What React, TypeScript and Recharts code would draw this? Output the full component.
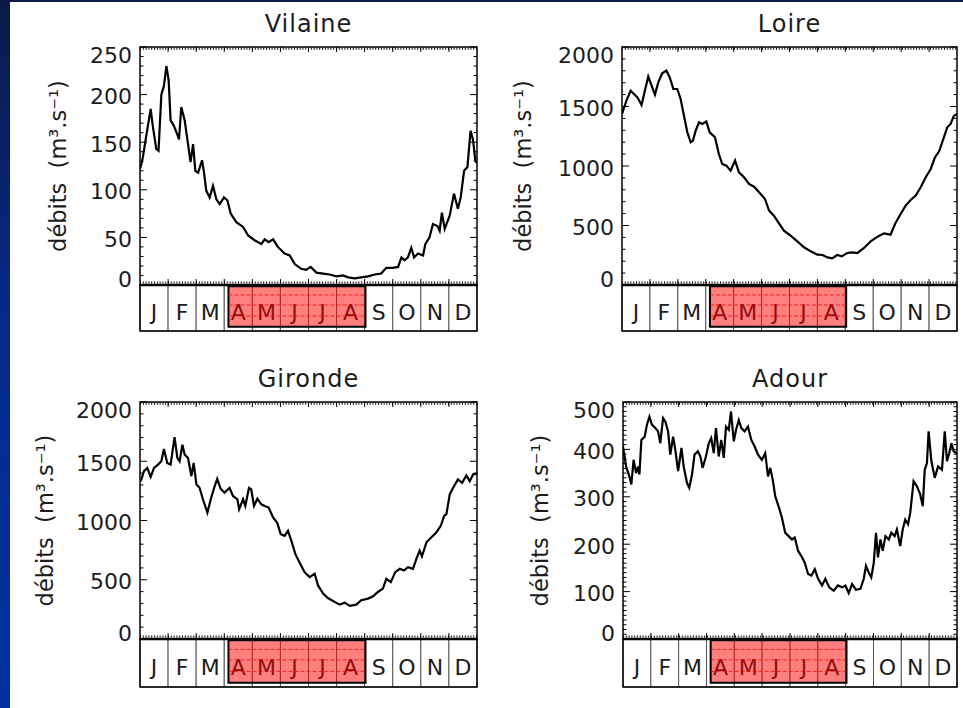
import React from 'react';
import { LineChart, Line, XAxis, YAxis, ReferenceArea, ReferenceLine } from 'recharts';

// ---------- data ----------
const MONTHS = ['J', 'F', 'M', 'A', 'M', 'J', 'J', 'A', 'S', 'O', 'N', 'D'];
const HIGHLIGHT_MONTHS = [3, 4, 5, 6, 7]; // A M J J A
const Y_LABEL = 'débits\u00a0\u00a0(m³.s⁻¹)';

const TITLES = ['Vilaine', 'Loire', 'Gironde', 'Adour'];

const VILAINE_TICKS = [0, 50, 100, 150, 200, 250];
const LOIRE_TICKS = [0, 500, 1000, 1500, 2000];
const GIRONDE_TICKS = [0, 500, 1000, 1500, 2000];
const ADOUR_TICKS = [0, 100, 200, 300, 400, 500];
const MINOR_STEPS = [10, 100, 100, 10];

// [month position, discharge]
const VILAINE = [
  [0, 122], [0.05, 127], [0.1, 134], [0.23, 158], [0.38, 185], [0.46, 166], [0.58, 143], [0.66, 141],
  [0.76, 200], [0.85, 209], [0.94, 230], [1.02, 215], [1.09, 173], [1.21, 167], [1.33, 158], [1.39, 153],
  [1.47, 187], [1.59, 173], [1.71, 148], [1.8, 129], [1.89, 148], [1.97, 120], [2.07, 118], [2.21, 131],
  [2.28, 118], [2.36, 99], [2.48, 92], [2.6, 104], [2.72, 90], [2.84, 85], [2.99, 92], [3.11, 89],
  [3.23, 75], [3.43, 66], [3.67, 61], [3.85, 52], [4.08, 47], [4.32, 43], [4.44, 48], [4.58, 45],
  [4.74, 48], [4.91, 40], [5.15, 33], [5.33, 31], [5.51, 22], [5.74, 17], [5.92, 16], [6.08, 19],
  [6.28, 13], [6.52, 12], [6.75, 11], [6.99, 9], [7.23, 10], [7.41, 8], [7.64, 7], [7.88, 8],
  [8.12, 9], [8.36, 11], [8.59, 12], [8.77, 18], [9.01, 18], [9.19, 19], [9.31, 29], [9.42, 26],
  [9.54, 29], [9.66, 39], [9.76, 29], [9.9, 33], [10.08, 31], [10.16, 43], [10.31, 50], [10.43, 64],
  [10.59, 62], [10.67, 57], [10.75, 76], [10.85, 59], [11.03, 73], [11.18, 96], [11.32, 80], [11.42, 92],
  [11.54, 120], [11.66, 124], [11.77, 162], [11.86, 152], [11.94, 131], [12, 128],
];

const LOIRE = [
  [0, 1437], [0.16, 1549], [0.31, 1633], [0.43, 1605], [0.55, 1577], [0.7, 1513], [0.82, 1633], [0.94, 1751],
  [1.06, 1675], [1.18, 1600], [1.3, 1703], [1.44, 1779], [1.59, 1801], [1.71, 1745], [1.84, 1647], [1.98, 1647],
  [2.1, 1563], [2.22, 1423], [2.34, 1283], [2.46, 1199], [2.54, 1213], [2.64, 1297], [2.76, 1367], [2.88, 1353],
  [3.02, 1375], [3.14, 1283], [3.33, 1241], [3.47, 1101], [3.59, 1017], [3.74, 1003], [3.89, 961], [4.05, 1045],
  [4.19, 947], [4.37, 905], [4.55, 849], [4.73, 826], [4.91, 779], [5.12, 723], [5.27, 625], [5.44, 583],
  [5.6, 527], [5.8, 457], [6.04, 415], [6.28, 367], [6.52, 317], [6.76, 283], [7.0, 255], [7.18, 252],
  [7.36, 232], [7.53, 224], [7.71, 252], [7.87, 241], [8.07, 269], [8.25, 274], [8.43, 269], [8.67, 311],
  [8.91, 367], [9.15, 406], [9.39, 434], [9.62, 423], [9.78, 513], [9.98, 597], [10.16, 667], [10.34, 714],
  [10.52, 751], [10.7, 821], [10.88, 905], [11.06, 975], [11.21, 1073], [11.36, 1123], [11.53, 1241], [11.65, 1325],
  [11.77, 1353], [11.89, 1423], [12, 1437],
];

const GIRONDE = [
  [0, 1330], [0.05, 1346], [0.14, 1416], [0.26, 1444], [0.38, 1369], [0.5, 1444], [0.64, 1472], [0.76, 1500],
  [0.85, 1603], [0.97, 1486], [1.09, 1472], [1.23, 1704], [1.33, 1528], [1.41, 1500], [1.51, 1640], [1.59, 1556],
  [1.71, 1528], [1.83, 1374], [1.91, 1486], [2.01, 1304], [2.12, 1276], [2.24, 1179], [2.4, 1067], [2.52, 1179],
  [2.64, 1276], [2.75, 1352], [2.87, 1268], [3.01, 1235], [3.19, 1276], [3.31, 1207], [3.47, 1179], [3.53, 1095],
  [3.67, 1179], [3.75, 1123], [3.88, 1276], [3.96, 1262], [4.06, 1123], [4.18, 1184], [4.32, 1137], [4.44, 1123],
  [4.58, 1109], [4.74, 1025], [4.89, 978], [5.01, 885], [5.15, 871], [5.27, 913], [5.39, 829], [5.53, 718],
  [5.69, 642], [5.86, 564], [6.04, 522], [6.22, 550], [6.34, 452], [6.52, 383], [6.69, 346], [6.93, 313],
  [7.11, 290], [7.29, 307], [7.47, 279], [7.7, 290], [7.88, 327], [8.12, 341], [8.3, 360], [8.47, 397],
  [8.65, 425], [8.77, 508], [8.93, 480], [9.09, 564], [9.25, 592], [9.4, 578], [9.54, 606], [9.72, 592],
  [9.84, 676], [9.96, 746], [10.04, 698], [10.2, 816], [10.37, 857], [10.55, 899], [10.71, 955], [10.83, 1039],
  [10.91, 1053], [11.03, 1221], [11.15, 1276], [11.32, 1346], [11.47, 1318], [11.62, 1380], [11.74, 1332], [11.86, 1388],
  [12, 1396],
];

const ADOUR = [
  [0, 406], [0.11, 364], [0.23, 343], [0.3, 326], [0.38, 378], [0.47, 350], [0.54, 364], [0.59, 347],
  [0.66, 420], [0.78, 427], [0.86, 452], [0.95, 469], [1.04, 452], [1.16, 445], [1.26, 438], [1.34, 413],
  [1.44, 466], [1.52, 459], [1.62, 438], [1.7, 389], [1.8, 427], [1.88, 399], [1.98, 354], [2.1, 403],
  [2.18, 364], [2.3, 329], [2.38, 319], [2.48, 347], [2.57, 389], [2.69, 396], [2.78, 385], [2.86, 361],
  [2.98, 385], [3.08, 413], [3.17, 424], [3.26, 392], [3.34, 445], [3.44, 385], [3.53, 420], [3.62, 382],
  [3.7, 448], [3.8, 441], [3.88, 480], [3.98, 417], [4.06, 441], [4.16, 462], [4.25, 445], [4.37, 438],
  [4.49, 448], [4.61, 420], [4.73, 406], [4.85, 389], [4.99, 378], [5.11, 392], [5.21, 343], [5.29, 361],
  [5.38, 336], [5.47, 301], [5.59, 280], [5.71, 256], [5.83, 224], [5.95, 217], [6.07, 210], [6.17, 214],
  [6.29, 186], [6.41, 175], [6.53, 161], [6.65, 137], [6.77, 134], [6.89, 147], [7.01, 127], [7.15, 113],
  [7.27, 127], [7.41, 109], [7.57, 102], [7.72, 113], [7.87, 109], [7.99, 113], [8.11, 97], [8.23, 116],
  [8.37, 104], [8.53, 106], [8.65, 127], [8.73, 154], [8.83, 140], [8.92, 130], [9.01, 161], [9.09, 224],
  [9.16, 172], [9.25, 210], [9.33, 186], [9.43, 217], [9.55, 210], [9.64, 224], [9.76, 217], [9.84, 231],
  [9.96, 196], [10.05, 231], [10.14, 252], [10.24, 242], [10.32, 266], [10.44, 333], [10.56, 322], [10.68, 305],
  [10.77, 280], [10.84, 357], [10.92, 371], [10.98, 438], [11.08, 375], [11.2, 340], [11.32, 364], [11.46, 357],
  [11.56, 438], [11.64, 375], [11.72, 392], [11.8, 413], [11.88, 396], [12, 392],
];

const MONTH_EDGES = [0, 1, 2, 3, 4, 5, 6, 7, 8, 9, 10, 11, 12];

// ---------- layout ----------
const FONT = '"DejaVu Sans", Verdana, sans-serif';
const TEXT = '#1c1c1c';
const YW = 60;

const GEOM = [
  { left: 0, top: 0, w: 481, h: 345, plotL: 140, plotR: 477, plotT: 47, plotB: 285, stripB: 331, labelGap: 82 },
  { left: 481, top: 0, w: 482, h: 345, plotL: 622, plotR: 957, plotT: 47, plotB: 285, stripB: 331, labelGap: 99 },
  { left: 0, top: 355, w: 481, h: 345, plotL: 140, plotR: 477, plotT: 402, plotB: 639, stripB: 687, labelGap: 95 },
  { left: 481, top: 355, w: 482, h: 345, plotL: 623, plotR: 957, plotT: 402, plotB: 639, stripB: 687, labelGap: 83 },
];

function Panel({ title, series, yTicks, minorStep, g }: any) {
  const max = yTicks[yTicks.length - 1];
  const plotH = g.plotB - g.plotT;
  const stripH = g.stripB - g.plotB;
  const s = (max * stripH) / plotH;
  const px = max / plotH; // data units per pixel (vertical)
  const data = series.map(([m, q]: number[]) => ({ m, q }));

  const yMinor: number[] = [];
  for (let i = 0; i * minorStep <= max; i++) yMinor.push(i * minorStep);
  const isMajorY = (v: number) => yTicks.includes(v);

  const margin = {
    top: g.plotT - g.top,
    left: g.plotL - g.left - YW,
    right: g.left + g.w - g.plotR - 1,
    bottom: g.top + g.h - g.stripB - 1,
  };

  const LeftTick = (p: any) => {
    const v = p.payload.value;
    const major = isMajorY(v);
    const len = major ? 7 : 3.5;
    const dy = v === max ? 8 : v === 0 ? -6 : 2;
    return (
      <g>
        <line x1={p.x} x2={p.x + len} y1={p.y} y2={p.y} stroke="#000" strokeWidth={1} />
        {major && (
          <text x={p.x - 8} y={p.y + dy} textAnchor="end" dominantBaseline="central"
            fontFamily={FONT} fontSize={22} fill={TEXT}>{v}</text>
        )}
      </g>
    );
  };
  const RightTick = (p: any) => {
    const len = isMajorY(p.payload.value) ? 7 : 3.5;
    return <line x1={p.x} x2={p.x - len} y1={p.y} y2={p.y} stroke="#000" strokeWidth={1} />;
  };

  const TitleLabel = (p: any) => {
    const vb = p.viewBox;
    return (
      <text x={vb.x + vb.width / 2} y={vb.y - 15} textAnchor="middle"
        fontFamily={FONT} fontSize={24} letterSpacing={1} fill={TEXT}>{title}</text>
    );
  };
  const YLabel = (p: any) => {
    const vb = p.viewBox;
    const cx = vb.x + vb.width - g.labelGap;
    const cy = vb.y + plotH / 2;
    return (
      <text x={cx} y={cy} textAnchor="middle" dominantBaseline="central"
        transform={`rotate(-90, ${cx}, ${cy})`} fontFamily={FONT} fontSize={22.5} fill={TEXT}>{Y_LABEL}</text>
    );
  };
  const MonthLetter = (letter: string) => (p: any) => {
    const vb = p.viewBox;
    return (
      <text x={vb.x + vb.width / 2} y={vb.y + vb.height / 2 + 4} textAnchor="middle" dominantBaseline="central"
        fontFamily={FONT} fontSize={22} fill={TEXT}>{letter}</text>
    );
  };

  const hx1 = HIGHLIGHT_MONTHS[0] + 0.15;
  const hx2 = HIGHLIGHT_MONTHS[HIGHLIGHT_MONTHS.length - 1] + 1.03;
  const inner = MONTH_EDGES.slice(1, -1);

  return (
    <div style={{ position: 'absolute', left: g.left, top: g.top }}>
      <LineChart width={g.w} height={g.h} data={data} margin={margin}>
        <XAxis dataKey="m" type="number" domain={[0, 12]} allowDataOverflow ticks={MONTH_EDGES}
          height={1} tickSize={0} axisLine={false} tickLine={false} tick={false} />
        <YAxis type="number" domain={[-s, max]} allowDataOverflow ticks={yMinor} interval={0} width={YW}
          tickSize={0} tickMargin={0} axisLine={false} tickLine={false} tick={LeftTick} label={<YLabel />} />
        <YAxis yAxisId="r" orientation="right" type="number" domain={[-s, max]} allowDataOverflow ticks={yMinor}
          interval={0} width={1} tickSize={0} tickMargin={0} axisLine={false} tickLine={false} tick={RightTick} />

        {MONTHS.map((mo, i) => (
          <ReferenceArea key={`c${i}`} x1={MONTH_EDGES[i]} x2={MONTH_EDGES[i + 1]} y1={-s} y2={0}
            fill="#fff" fillOpacity={1} stroke="#555" strokeWidth={1} label={MonthLetter(mo)} />
        ))}
        <ReferenceArea x1={hx1} x2={hx2} y1={-s * 0.91} y2={-s * 0.025}
          fill="#ff0000" fillOpacity={0.5} stroke="#000" strokeWidth={2} />
        {[0.217, 0.435, 0.674].map((f) => (
          <ReferenceLine key={`d${f}`} segment={[{ x: hx1, y: -s * f }, { x: hx2, y: -s * f }]}
            stroke="#e01010" strokeOpacity={0.8} strokeDasharray="4 2" strokeWidth={1} />
        ))}

        {/* minor x ticks (dotted rows inside the top and bottom edges) */}
        <ReferenceLine y={max - 1.6 * px} stroke="#000" strokeWidth={2.2} strokeDasharray="1 1.8" />
        <ReferenceLine y={2.6 * px} stroke="#000" strokeWidth={2} strokeDasharray="1 1.8" />
        {/* month major ticks on the plot frame */}
        {inner.map((m) => (
          <ReferenceLine key={`tt${m}`} segment={[{ x: m, y: max }, { x: m, y: max - 5 * px }]}
            stroke="#000" strokeWidth={1} />
        ))}
        {inner.map((m) => (
          <ReferenceLine key={`tb${m}`} segment={[{ x: m, y: 0 }, { x: m, y: 6 * px }]}
            stroke="#000" strokeWidth={1} />
        ))}

        <ReferenceArea x1={0} x2={12} y1={-s} y2={0} fill="none" stroke="#000" strokeWidth={1.5} />
        <ReferenceArea x1={0} x2={12} y1={0} y2={max} fill="none" stroke="#000" strokeWidth={1.5}
          label={TitleLabel} />
        <ReferenceLine y={0} stroke="#000" strokeWidth={2.5} />

        <Line dataKey="q" type="linear" stroke="#000" strokeWidth={2.2} dot={false} isAnimationActive={false} />
      </LineChart>
    </div>
  );
}

const SERIES = [VILAINE, LOIRE, GIRONDE, ADOUR];
const TICKS = [VILAINE_TICKS, LOIRE_TICKS, GIRONDE_TICKS, ADOUR_TICKS];

export default function App() {
  return (
    <div style={{ position: 'absolute', left: 0, top: 0, width: 963, height: 708, background: '#fff', overflow: 'hidden' }}>
      <div style={{ position: 'absolute', left: 0, top: 0, width: 963, height: 2, background: '#0b1a48' }} />
      <div style={{ position: 'absolute', left: 0, top: 0, width: 10, height: 708,
        background: 'linear-gradient(to bottom, #0b1a48 0%, #06298a 45%, #0033a0 100%)' }} />
      {GEOM.map((g, i) => (
        <Panel key={TITLES[i]} title={TITLES[i]} series={SERIES[i]} yTicks={TICKS[i]} minorStep={MINOR_STEPS[i]} g={g} />
      ))}
    </div>
  );
}
